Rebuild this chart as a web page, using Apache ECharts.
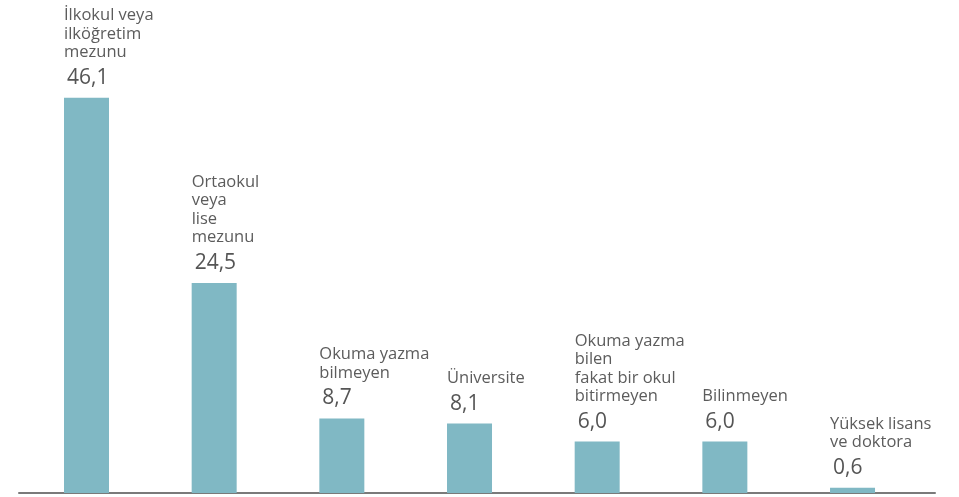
<!DOCTYPE html>
<html>
<head>
<meta charset="utf-8">
<script src="https://cdn.jsdelivr.net/npm/echarts@6/dist/echarts.min.js"></script>
<style>
  html, body { margin: 0; padding: 0; background: #fff; }
  #chart { width: 959px; height: 497px; }
</style>
</head>
<body>
<div id="chart"></div>
<script>
  // eğitim durumu (%)
  var categories = [
    'İlkokul veya\nilköğretim\nmezunu',
    'Ortaokul\nveya\nlise\nmezunu',
    'Okuma yazma\nbilmeyen',
    'Üniversite',
    'Okuma yazma\nbilen\nfakat bir okul\nbitirmeyen',
    'Bilinmeyen',
    'Yüksek lisans\nve doktora'
  ];
  var values = [46.1, 24.5, 8.7, 8.1, 6.0, 6.0, 0.6];

  var chart = echarts.init(document.getElementById('chart'));

  var fmt = function (v) {
    return v.toFixed(1).replace('.', ',');
  };

  chart.setOption({
    animation: false,
    grid: { left: 19, right: 24, top: 0, bottom: 4 },
    xAxis: {
      type: 'value',
      min: -0.5287,
      max: 6.646,
      axisLine: { show: true, lineStyle: { color: '#7a7a7a', width: 2 } },
      axisTick: { show: false },
      axisLabel: { show: false },
      splitLine: { show: false }
    },
    yAxis: {
      type: 'value',
      min: 0,
      max: 57.5,
      show: false
    },
    series: [{
      type: 'bar',
      barWidth: 45,
      itemStyle: { color: '#80b8c4' },
      data: values.map(function (v, i) { return [i, v]; }),
      label: {
        show: true,
        position: [0, -4],
        align: 'left',
        verticalAlign: 'bottom',
        fontFamily: 'Open Sans',
        formatter: function (p) {
          var i = p.data[0];
          var lines = categories[i].split('\n').map(function (l) {
            return '{n|' + l + '}';
          });
          return lines.join('\n') + '\n{v|' + fmt(p.data[1]) + '}';
        },
        rich: {
          n: { fontSize: 16.5, lineHeight: 18.5, color: '#5c5c5c', fontFamily: 'Open Sans' },
          v: { fontSize: 21, lineHeight: 32, color: '#555555', fontFamily: 'Open Sans', padding: [0, 0, 0, 3] }
        }
      }
    }]
  });
</script>
</body>
</html>
